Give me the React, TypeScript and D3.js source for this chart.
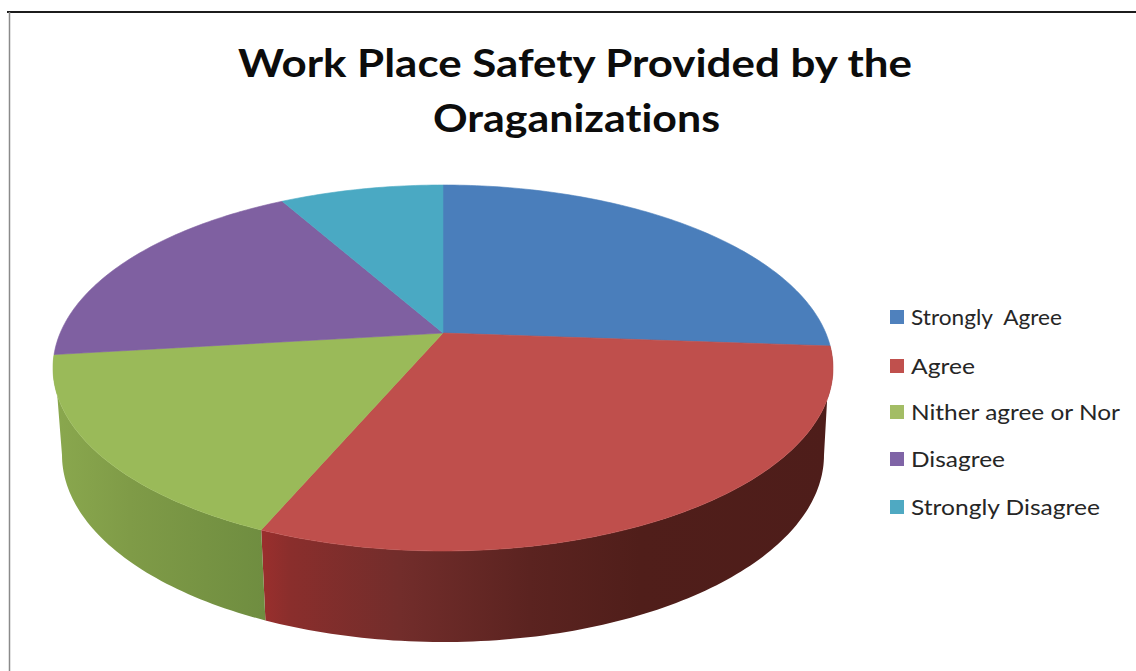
import React from "react";
import * as d3 from "d3";

const categories = ["Strongly  Agree", "Agree", "Nither agree or Nor", "Disagree", "Strongly Disagree"];
const shares = [26.15, 30.25, 16.7, 18.75, 8.15];
const faceColors = ["#4a7ebb", "#bf4f4c", "#9aba59", "#7f60a1", "#4aa9c3"];
const legendSwatches = ["#4f81bd", "#c0504d", "#a3bd65", "#7f64a6", "#4fa9c2"];
const titleLines = ["Work Place Safety Provided by the", "Oraganizations"];
const titleWidths = [674, 287];
const legendY = [317, 366, 412, 459, 507];
const legendWidths = [151, 64, 209, 94, 189];

const WIDTH = 1136;
const HEIGHT = 671;

// Perspective of the tilted disc: nearer points spread out, so the apex sits above the ellipse centre.
const TILT = 0.191;
const cx = 443;
const topDisc = { cy: 368, rx: 390, ry: 183 };
const bottomDisc = { cy: 455, rx: 381, ry: 187 };

type Disc = typeof topDisc;
type Pt = [number, number];

function project(d: Disc, angle: number): Pt {
  const X = Math.sin(angle);
  const Y = -Math.cos(angle);
  const s = 1 / (1 - TILT * Y);
  const R = d.rx * Math.sqrt(1 - TILT * TILT);
  const k = d.ry * (1 - TILT * TILT);
  return [cx + R * X * s, d.cy - d.ry * TILT + k * Y * s];
}

const apex: Pt = [cx, topDisc.cy - topDisc.ry * TILT];

const sweep = (a0: number, a1: number) => {
  const n = Math.max(2, Math.ceil(((a1 - a0) * 180) / Math.PI));
  return d3.range(n + 1).map((i) => a0 + ((a1 - a0) * i) / n);
};

// Rim angles where the lower disc is at its widest: the silhouette runs straight up from there.
const widestRight = Math.acos(-TILT);
const widestLeft = 2 * Math.PI - widestRight;

const pieLayout = d3.pie<number>().sort(null).value((v) => v);
const arcs = pieLayout(shares);
const outline = d3.line<Pt>().curve(d3.curveLinear);

// Shaded side walls of the two front slices, left to right along the rim.
const wallStops: Record<number, [number, string][]> = {
  1: [
    [262, "#9a2f2d"],
    [290, "#8a2e2c"],
    [400, "#722d2b"],
    [530, "#5b2320"],
    [640, "#501e1a"],
    [833, "#4e1d1a"],
  ],
  2: [
    [54, "#8aa84e"],
    [130, "#7f9b47"],
    [265, "#6f8d40"],
  ],
};

export default function App() {
  const walls = arcs.map((a, i) => {
    if (!wallStops[i]) return null;
    const upper = sweep(a.startAngle, a.endAngle).map((t) => project(topDisc, t));
    const lower = sweep(Math.max(a.startAngle, widestRight), Math.min(a.endAngle, widestLeft))
      .reverse()
      .map((t) => project(bottomDisc, t));
    return outline([...upper, ...lower]) + "Z";
  });
  const faces = arcs.map((a) => {
    const rim = sweep(a.startAngle, a.endAngle).map((t) => project(topDisc, t));
    return outline([apex, ...rim]) + "Z";
  });

  return (
    <svg
      width={WIDTH}
      height={HEIGHT}
      viewBox={`0 0 ${WIDTH} ${HEIGHT}`}
      style={{ position: "absolute", left: 0, top: 0, display: "block", background: "#fff" }}
    >
      <defs>
        {Object.entries(wallStops).map(([i, stops]) => {
          const x0 = stops[0][0];
          const x1 = stops[stops.length - 1][0];
          return (
            <linearGradient key={i} id={`wall-${i}`} gradientUnits="userSpaceOnUse" x1={x0} x2={x1} y1={0} y2={0}>
              {stops.map(([x, c]) => (
                <stop key={x} offset={(x - x0) / (x1 - x0)} stopColor={c} />
              ))}
            </linearGradient>
          );
        })}
      </defs>

      <line x1={7} x2={WIDTH} y1={12} y2={12} stroke="#1c1c1c" strokeWidth={2} />
      <line x1={9.5} x2={9.5} y1={12} y2={HEIGHT} stroke="#8a8a8a" strokeWidth={1.5} />

      {titleLines.map((line, i) => (
        <text
          key={line}
          x={i === 0 ? 575 : 576.5}
          y={77 + i * 55}
          textAnchor="middle"
          fontFamily="Lato, 'Open Sans', sans-serif"
          fontWeight={700}
          fontSize={39}
          fill="#0c0c0c"
          textLength={titleWidths[i]}
          lengthAdjust="spacingAndGlyphs"
          style={{ fontVariantLigatures: "none" }}
        >
          {line}
        </text>
      ))}

      {walls.map((d, i) => d && <path key={i} d={d} fill={`url(#wall-${i})`} />)}
      {faces.map((d, i) => (
        <path key={i} d={d} fill={faceColors[i]} stroke={faceColors[i]} strokeWidth={0.6} strokeLinejoin="round" />
      ))}

      {categories.map((c, i) => (
        <g key={c}>
          <rect x={890} y={legendY[i] - 7} width={14} height={14} fill={legendSwatches[i]} />
          <text
            x={911}
            y={legendY[i] + 8}
            fontFamily="Lato, 'Open Sans', sans-serif"
            fontSize={22}
            fill="#262626"
            xmlSpace="preserve"
            textLength={legendWidths[i]}
            lengthAdjust="spacingAndGlyphs"
            style={{ fontVariantLigatures: "none" }}
          >
            {c}
          </text>
        </g>
      ))}
    </svg>
  );
}
